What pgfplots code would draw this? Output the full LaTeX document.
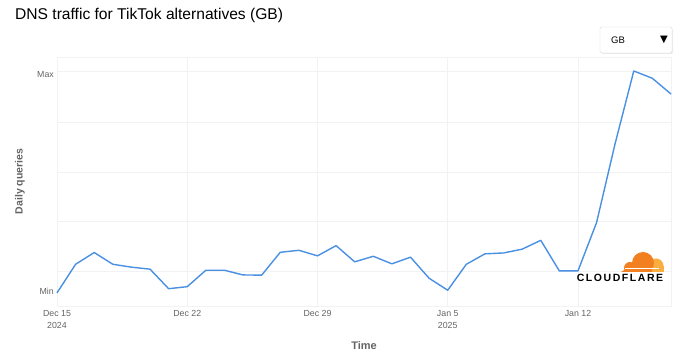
\documentclass[border=0pt]{standalone}
\usepackage{fontspec}
\setmainfont{Liberation Sans}
\newfontfamily\symfont{DejaVu Sans}
\newfontfamily\cffont[LetterSpace=15]{Liberation Sans}
\usepackage{pgfplots}
\pgfplotsset{compat=1.18}
\definecolor{linecol}{RGB}{74,144,226}
\definecolor{labgray}{RGB}{100,100,100}
\definecolor{gridcol}{RGB}{242,242,245}
\definecolor{cforange}{RGB}{243,128,32}
\definecolor{cflight}{RGB}{250,174,64}
\pgfplotstableread{
day v
0 0
1 12.9
2 18.2
3 12.9
4 11.6
5 10.7
6 1.9
7 2.8
8 10.2
9 10.2
10 8.1
11 8.0
12 18.3
13 19.2
14 16.7
15 21.3
16 14.0
17 16.5
18 13.1
19 16.1
20 6.6
21 1.2
22 12.9
23 17.6
24 18.0
25 19.7
26 23.7
27 9.9
28 9.9
29 31.7
30 67.4
31 100
32 96.7
33 89.6
}\dnsdata
\begin{document}
\begin{tikzpicture}[x=1pt,y=1pt]
\path[use as bounding box] (0,0) rectangle (680,355);
\node[anchor=west, inner sep=0pt, font=\fontsize{15.6}{18}\selectfont] at (15,340) {DNS traffic for TikTok alternatives (GB)};
% dropdown
\fill[gray!15, rounded corners=2pt] (601,301) rectangle (673,327);
\draw[gray!30, fill=white, rounded corners=2pt] (600,302) rectangle (672,328);
\node[anchor=west, inner sep=0pt, font=\fontsize{9.5}{10}\selectfont] at (611,315) {GB};
\node[inner sep=0pt, font=\symfont\fontsize{10}{10}\selectfont] at (664,315) {▼};
\begin{axis}[
  at={(57pt,49pt)}, anchor=south west,
  scale only axis, width=614pt, height=249pt,
  xmin=0, xmax=33, ymin=-5.9, ymax=106.3,
  axis line style={draw=gridcol},
  tick style={draw=none},
  xtick={0,7,14,21,28},
  xticklabels={{Dec 15\\2024},{Dec 22},{Dec 29},{Jan 5\\2025},{Jan 12}},
  xticklabel style={align=center, font=\fontsize{8.8}{12.5}\selectfont, text=labgray, inner sep=0pt},
  xticklabel shift=4pt,
  ytick={9.5,32,54.5,77,100},
  yticklabels={},
  extra y ticks={0.5,98.6},
  extra y tick labels={Min,Max},
  extra y tick style={grid=none, yticklabel style={font=\fontsize{8.8}{10}\selectfont, text=labgray, inner sep=0pt}},
  yticklabel shift=3pt,
  grid=major,
  grid style={draw=gridcol, line width=0.8pt},
  xlabel={Time},
  ylabel={Daily queries},
  xlabel style={at={(axis description cs:0.5,-0.157)}, anchor=center, font=\bfseries\fontsize{11}{12}\selectfont, text=labgray},
  ylabel style={at={(axis description cs:-0.0603,0.5)}, anchor=center, font=\bfseries\fontsize{10.5}{12}\selectfont, text=labgray},
  clip=false,
]
\addplot[linecol, line width=1.4pt, line join=round] table[x=day, y=v] {\dnsdata};
\end{axis}
% Cloudflare logo
\begin{scope}
\clip (615,83) rectangle (670,110);
\fill[cflight] (656,89) circle (7.5);
\fill[cflight] (648,83) rectangle (664,89);
\fill[cforange] (643,92) circle (11);
\fill[cforange] (630,87) circle (6);
\fill[cforange] (621,83) -- (626,86) -- (640,88) -- (652,87) -- (652,83) -- cycle;
\draw[white, line width=0.7pt] (625,86.3) -- (659,86.3);
\end{scope}
\node[inner sep=0pt, font=\cffont\bfseries\fontsize{10.5}{10}\selectfont] at (620,77) {CLOUDFLARE};
\end{tikzpicture}
\end{document}
